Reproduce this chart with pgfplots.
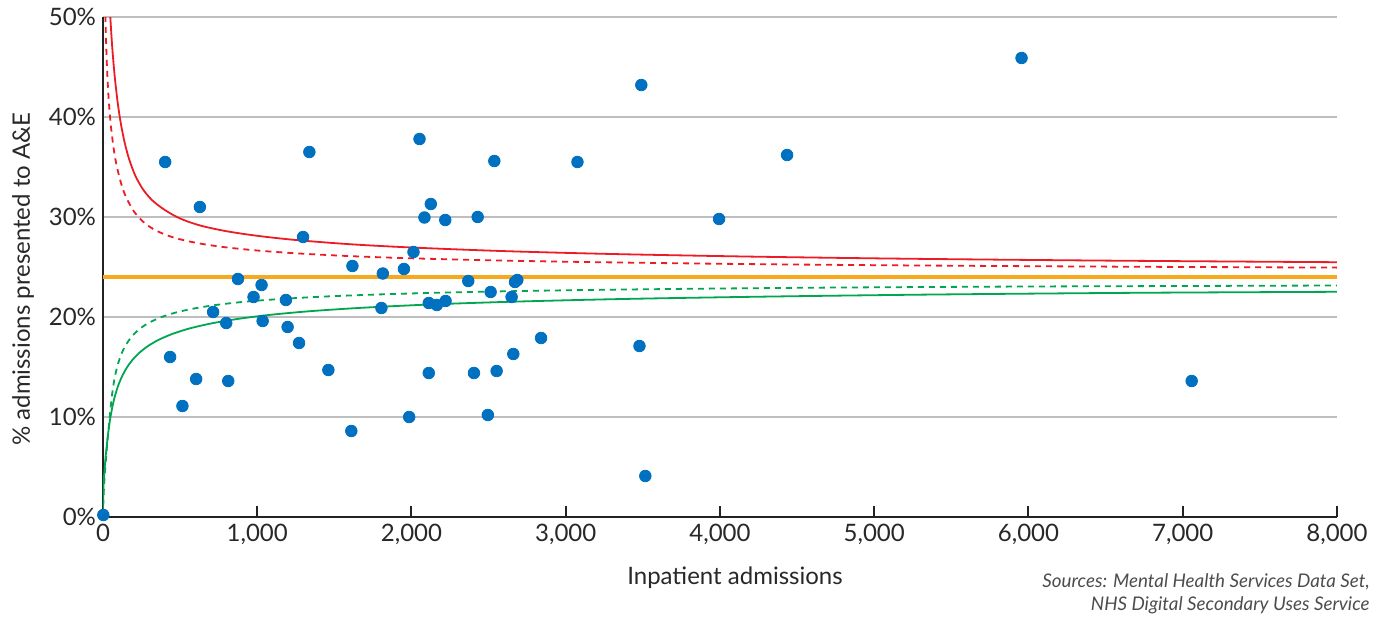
\documentclass[border=0pt]{standalone}
\usepackage{fontspec}
\setmainfont{Lato}
\usepackage{pgfplots}
\pgfplotsset{compat=1.18}
\definecolor{cred}{RGB}{237,28,36}
\definecolor{cgreen}{RGB}{0,166,80}
\definecolor{corange}{RGB}{247,169,29}
\definecolor{cblue}{RGB}{0,112,192}
\definecolor{axisc}{RGB}{34,34,34}
\definecolor{textc}{RGB}{40,40,40}
\definecolor{gridc}{RGB}{190,190,190}
\begin{document}
\begin{tikzpicture}
\useasboundingbox (-51.5pt,-50pt) rectangle (643pt,258.5pt);
\begin{axis}[
  at={(0,0)}, anchor=south west,
  scale only axis, width=617pt, height=250pt,
  xmin=0, xmax=8000, ymin=0, ymax=50,
  axis x line=bottom, axis y line=left,
  axis line style={-, line width=1pt, color=axisc},
  xtick={0,1000,2000,3000,4000,5000,6000,7000,8000},
  xticklabels={0,{1,000},{2,000},{3,000},{4,000},{5,000},{6,000},{7,000},{8,000}},
  ytick={0,10,20,30,40,50},
  yticklabels={0\%,10\%,20\%,30\%,40\%,50\%},
  ymajorgrids, grid style={gridc, line width=0.6pt},
  tick align=inside, major tick length=5.5pt,
  ytick style={draw=none},
  xtick style={line width=1pt, color=axisc},
  tick label style={font=\fontsize{12}{14}\selectfont, text=textc},
  clip mode=individual,
]
% orange mean line
\addplot[corange, line width=1.6pt] coordinates {(0,24.0) (8000,24.0)};
% upper 99.8% limit
\addplot[cred, line width=0.9pt, smooth] coordinates {
(40,52.37) (45,50.75) (50,49.33) (60,46.96) (75,44.21) (95,41.47) (115,39.41) (140,37.47) (170,35.75) (210,34.12) (260,32.75) (320,31.66) (400,30.71) (500,29.85) (630,29.15) (800,28.58) (1000,28.12) (1250,27.7) (1600,27.28) (2000,26.95) (2600,26.59) (3300,26.3) (4200,26.04) (5200,25.83) (6500,25.64) (8000,25.48)};
% upper 95% limit
\addplot[cred, line width=0.9pt, dash pattern=on 3pt off 2.5pt, smooth] coordinates {
(12,53.42) (14,51.5) (18,48.64) (25,45.29) (35,42.21) (50,39.28) (70,36.76) (90,35.03) (120,33.22) (150,31.97) (200,30.57) (260,29.53) (330,28.76) (420,28.14) (520,27.69) (650,27.29) (800,26.96) (1000,26.65) (1250,26.37) (1600,26.09) (2000,25.87) (2600,25.64) (3300,25.46) (4200,25.29) (5200,25.16) (6500,25.04) (8000,24.94)};
% lower 95% limit
\addplot[cgreen, line width=0.9pt, dash pattern=on 3pt off 2.5pt, smooth] coordinates {
(0.5,0) (2,1.2) (5,2.5) (9,3.6) (14,4.8) (21,6.1) (30,7.8) (40,9.4) (50,11.0) (60,12.38) (75,13.86) (95,15.19) (120,16.32) (150,17.25) (190,18.1) (240,18.84) (300,19.44) (380,20.0) (480,20.48) (600,20.88) (750,21.24) (950,21.57) (1200,21.85) (1500,22.09) (1900,22.31) (2400,22.51) (3000,22.67) (3800,22.82) (4800,22.95) (6000,23.05) (7000,23.1) (8000,23.15)};
% lower 99.8% limit
\addplot[cgreen, line width=0.9pt, smooth] coordinates {
(0,0) (0.3,1.0) (1.2,2.2) (3.5,3.3) (7,4.1) (11,4.9) (15,5.7) (20,6.48) (25,7.2) (32,8.17) (40,9.13) (50,10.13) (65,11.32) (80,12.24) (100,13.2) (125,14.11) (155,14.95) (190,15.69) (235,16.41) (290,17.08) (360,17.71) (450,18.31) (560,18.85) (700,19.35) (870,19.8) (1080,20.21) (1350,20.59) (1700,20.94) (2150,21.27) (2700,21.55) (3400,21.81) (4300,22.04) (5400,22.25) (6700,22.42) (8000,22.52)};
% providers
\addplot[only marks, mark=*, color=cblue, mark size=2.9pt] coordinates {
(2,0.2) (403,35.5) (435,16.0) (515,11.1) (604,13.8) (628,31.0) (714,20.5) (799,19.4) (812,13.6) (875,23.8)
(976,22.0) (1028,23.2) (1035,19.6) (1186,21.7) (1197,19.0) (1271,17.4) (1297,28.0) (1338,36.5) (1461,14.7) (1610,8.6)
(1617,25.1) (1805,20.9) (1814,24.35) (1951,24.8) (1985,10.0) (2013,26.5) (2052,37.8) (2084,29.95) (2112,21.4) (2112,14.4)
(2125,31.3) (2164,21.2) (2219,29.7) (2221,21.6) (2368,23.6) (2405,14.4) (2429,30.0) (2495,10.2) (2513,22.5) (2537,35.6)
(2552,14.6) (2649,22.0) (2660,16.3) (2671,23.5) (2686,23.7) (2840,17.9) (3076,35.5) (3478,17.1) (3490,43.2) (3516,4.1)
(3994,29.8) (4435,36.2) (5955,45.9) (7058,13.6)};
\end{axis}
\node[anchor=base, font=\fontsize{12}{14}\selectfont, text=textc] at (316pt,-33.5pt) {Inpatient admissions};
\node[rotate=90, anchor=center, font=\fontsize{12}{14}\selectfont, text=textc] at (-40pt,119pt) {\% admissions presented to A\&E};
\node[anchor=base east, inner sep=0pt, font=\itshape\fontsize{9.4}{11}\selectfont, text=black!70] at (633.5pt,-35pt) {Sources: Mental Health Services Data Set,};
\node[anchor=base east, inner sep=0pt, font=\itshape\fontsize{9.4}{11}\selectfont, text=black!70] at (633.5pt,-46.5pt) {NHS Digital Secondary Uses Service};
\end{tikzpicture}
\end{document}
